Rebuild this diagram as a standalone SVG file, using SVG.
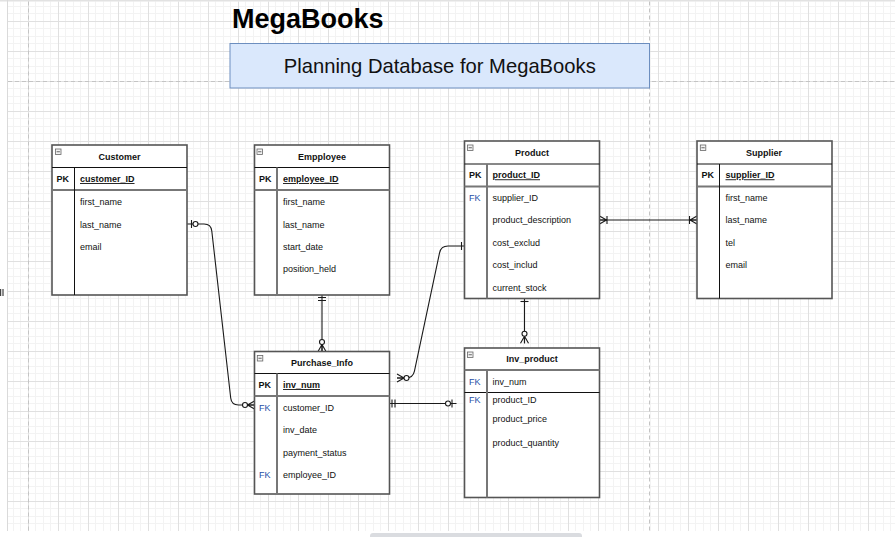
<svg xmlns="http://www.w3.org/2000/svg" width="895" height="537" viewBox="0 0 895 537">
<style>
.t{font-family:"Liberation Sans",Arial,Helvetica,sans-serif;font-size:9px;fill:#111}
.b{font-weight:bold}
.c{text-anchor:middle}
.u{text-decoration:underline}
.fk{fill:#1f4fa8}
.tbl{fill:#fff;stroke:#555;stroke-width:1.6}
.hl{stroke:#111;stroke-width:1}
.pl{stroke:#777;stroke-width:2}
.dv{stroke:#777;stroke-width:2}
.dvb{stroke:#111;stroke-width:1}
.ic{fill:#f3f3f3;stroke:#666;stroke-width:0.8}
.icm{stroke:#444;stroke-width:0.8}
.page{stroke:#c4c4c4;stroke-width:1;stroke-dasharray:4 3;fill:none}
.cn{fill:none;stroke:#1a1a1a;stroke-width:1.1}
.mk{fill:none;stroke:#1a1a1a;stroke-width:1.1}
.mc{fill:#fff;stroke:#1a1a1a;stroke-width:1.1}
</style>
<defs>
<pattern id="grid" patternUnits="userSpaceOnUse" x="28" y="21" width="30" height="30">
<rect width="30" height="30" fill="#fff"/>
<rect x="7" y="0" width="1" height="30" fill="#f3f3f3"/>
<rect x="15" y="0" width="1" height="30" fill="#f3f3f3"/>
<rect x="22" y="0" width="1" height="30" fill="#f3f3f3"/>
<rect x="0" y="7" width="30" height="1" fill="#f3f3f3"/>
<rect x="0" y="15" width="30" height="1" fill="#f3f3f3"/>
<rect x="0" y="22" width="30" height="1" fill="#f3f3f3"/>
<rect x="0" y="0" width="1" height="30" fill="#e0e0e0"/>
<rect x="0" y="0" width="30" height="1" fill="#e0e0e0"/>
</pattern>
<marker id="zeroMany" markerUnits="userSpaceOnUse" markerWidth="1" markerHeight="1" refX="0" refY="0" orient="auto-start-reverse" overflow="visible">
<path class="mk" d="M-7,0 L0,-4 M-7,0 L0,0 M-7,0 L0,4"/>
<circle class="mc" cx="-9.5" cy="0" r="2.5"/>
</marker>
<marker id="zeroOne" markerUnits="userSpaceOnUse" markerWidth="1" markerHeight="1" refX="0" refY="0" orient="auto-start-reverse" overflow="visible">
<path class="mk" d="M-4.5,-4 V4"/>
<circle class="mc" cx="-8.5" cy="0" r="2.5"/>
</marker>
<marker id="mandOne" markerUnits="userSpaceOnUse" markerWidth="1" markerHeight="1" refX="0" refY="0" orient="auto-start-reverse" overflow="visible">
<path class="mk" d="M-2.5,-4 V4 M-5.5,-4 V4"/>
</marker>
<marker id="one" markerUnits="userSpaceOnUse" markerWidth="1" markerHeight="1" refX="0" refY="0" orient="auto-start-reverse" overflow="visible">
<path class="mk" d="M-3,-4 V4"/>
</marker>
<marker id="oneMany" markerUnits="userSpaceOnUse" markerWidth="1" markerHeight="1" refX="0" refY="0" orient="auto-start-reverse" overflow="visible">
<path class="mk" d="M-7,0 L0,-4 M-7,0 L0,0 M-7,0 L0,4 M-7.5,-4 V4"/>
</marker>
</defs>

<!-- canvas background -->
<rect x="0" y="0" width="895" height="537" fill="#fff"/>
<rect x="8" y="1.5" width="887" height="529.5" fill="url(#grid)"/>
<rect x="0" y="0" width="895" height="1.5" fill="#e2e2e2"/>
<line x1="7.5" y1="0" x2="7.5" y2="531" stroke="#dadada"/>
<rect x="370" y="533" width="212" height="8" rx="3" fill="#dadce0"/>
<rect x="0" y="289" width="1.2" height="7" fill="#444"/>
<rect x="2.4" y="289" width="1.2" height="7" fill="#444"/>

<!-- page breaks -->
<g id="pages">
<line class="page" x1="28.5" y1="1.5" x2="28.5" y2="531"/>
<line class="page" x1="649.5" y1="1.5" x2="649.5" y2="531"/>
<line class="page" x1="8" y1="81.5" x2="895" y2="81.5"/>
</g>

<!-- title -->
<g id="title">
<text x="232" y="27.5" style="font-family:'Liberation Sans',Arial,sans-serif;font-size:27px;font-weight:bold;fill:#000">MegaBooks</text>
</g>
<g id="subtitle">
<rect x="230" y="43.5" width="419.5" height="44.5" fill="#dae8fc" stroke="#6c8ebf" stroke-width="1"/>
<text x="439.75" y="73" text-anchor="middle" style="font-family:'Liberation Sans',Arial,sans-serif;font-size:20.2px;fill:#111">Planning Database for MegaBooks</text>
</g>

<!-- connectors -->
<g id="connectors">
<path class="cn" d="M187,224 H204 Q211,224 211.79,230.96 L230.71,398.04 Q231.5,405 238.5,405 H254.5" marker-start="url(#zeroOne)" marker-end="url(#zeroMany)"/>
<path class="cn" d="M322,295 V351.5" marker-start="url(#mandOne)" marker-end="url(#zeroMany)"/>
<path class="cn" d="M397,378 H406 Q413,378 414.45,371.15 L439.55,252.85 Q441,246 448,246 H464.5" marker-start="url(#zeroMany)" marker-end="url(#one)"/>
<path class="cn" d="M599.5,220 H697" marker-start="url(#oneMany)" marker-end="url(#oneMany)"/>
<path class="cn" d="M524.5,298.5 V343.3" marker-start="url(#one)" marker-end="url(#zeroMany)"/>
<path class="cn" d="M389.5,403.5 H456.5" marker-start="url(#mandOne)" marker-end="url(#zeroOne)"/>
</g>

<!-- Customer -->
<g id="customer">
<rect class="tbl" x="52" y="145" width="135" height="150"/>
<line class="hl" x1="52" y1="167.5" x2="187" y2="167.5"/>
<line class="pl" x1="52" y1="190" x2="187" y2="190"/>
<line class="dvb" x1="74.5" y1="167.5" x2="74.5" y2="295"/>
<rect class="ic" x="55.5" y="149" width="5.5" height="5.5"/>
<line class="icm" x1="56.6" y1="151.75" x2="59.9" y2="151.75"/>
<text class="t b c" x="119.5" y="160">Customer</text>
<text class="t b" x="56.5" y="182">PK</text>
<text class="t b u" x="80" y="182">customer_ID</text>
<text class="t" x="80" y="205.3">first_name</text>
<text class="t" x="80" y="227.6">last_name</text>
<text class="t" x="80" y="250">email</text>
</g>

<!-- Employee -->
<g id="employee">
<rect class="tbl" x="254.5" y="145" width="135" height="150"/>
<line class="hl" x1="254.5" y1="167.5" x2="389.5" y2="167.5"/>
<line class="pl" x1="254.5" y1="190" x2="389.5" y2="190"/>
<line class="dv" x1="277" y1="167.5" x2="277" y2="295"/>
<rect class="ic" x="257" y="149" width="5.5" height="5.5"/>
<line class="icm" x1="258.1" y1="151.75" x2="261.4" y2="151.75"/>
<text class="t b c" x="322" y="160">Empployee</text>
<text class="t b" x="259" y="182">PK</text>
<text class="t b u" x="283" y="182">employee_ID</text>
<text class="t" x="283" y="205.3">first_name</text>
<text class="t" x="283" y="227.6">last_name</text>
<text class="t" x="283" y="250">start_date</text>
<text class="t" x="283" y="272">position_held</text>
</g>

<!-- Product -->
<g id="product">
<rect class="tbl" x="464.5" y="141" width="135" height="157.5"/>
<line class="hl" x1="464.5" y1="164" x2="599.5" y2="164"/>
<line class="pl" x1="464.5" y1="186.5" x2="599.5" y2="186.5"/>
<line class="dv" x1="487" y1="164" x2="487" y2="298.5"/>
<rect class="ic" x="467.5" y="145" width="5.5" height="5.5"/>
<line class="icm" x1="468.6" y1="147.75" x2="471.9" y2="147.75"/>
<text class="t b c" x="532" y="155.5">Product</text>
<text class="t b" x="469" y="178.3">PK</text>
<text class="t b u" x="492.5" y="178.3">product_ID</text>
<text class="t fk" x="469" y="201">FK</text>
<text class="t" x="492.5" y="201">supplier_ID</text>
<text class="t" x="492.5" y="223.3">product_description</text>
<text class="t" x="492.5" y="246">cost_exclud</text>
<text class="t" x="492.5" y="268.3">cost_includ</text>
<text class="t" x="492.5" y="291">current_stock</text>
</g>

<!-- Supplier -->
<g id="supplier">
<rect class="tbl" x="697" y="141" width="135" height="157.5"/>
<line class="hl" x1="697" y1="164" x2="832" y2="164"/>
<line class="pl" x1="697" y1="186.5" x2="832" y2="186.5"/>
<line class="dvb" x1="719.5" y1="164" x2="719.5" y2="298.5"/>
<rect class="ic" x="700.3" y="145" width="5.5" height="5.5"/>
<line class="icm" x1="701.4" y1="147.75" x2="704.7" y2="147.75"/>
<text class="t b c" x="764" y="155.5">Supplier</text>
<text class="t b" x="701.5" y="178.3">PK</text>
<text class="t b u" x="725.5" y="178.3">supplier_ID</text>
<text class="t" x="725.5" y="201">first_name</text>
<text class="t" x="725.5" y="223.3">last_name</text>
<text class="t" x="725.5" y="246">tel</text>
<text class="t" x="725.5" y="268.3">email</text>
</g>

<!-- Purchase_Info -->
<g id="purchase_info">
<rect class="tbl" x="254.5" y="351.5" width="135" height="142.5"/>
<line class="hl" x1="254.5" y1="373.5" x2="389.5" y2="373.5"/>
<line class="pl" x1="254.5" y1="396" x2="389.5" y2="396"/>
<line class="dv" x1="277" y1="373.5" x2="277" y2="494"/>
<rect class="ic" x="257.3" y="355.5" width="5.5" height="5.5"/>
<line class="icm" x1="258.4" y1="358.25" x2="261.7" y2="358.25"/>
<text class="t b c" x="322" y="366">Purchase_Info</text>
<text class="t b" x="258.5" y="388">PK</text>
<text class="t b u" x="283" y="388">inv_num</text>
<text class="t fk" x="259" y="411.3">FK</text>
<text class="t" x="283" y="411.3">customer_ID</text>
<text class="t" x="283" y="433.3">inv_date</text>
<text class="t" x="283" y="456">payment_status</text>
<text class="t fk" x="259" y="478.3">FK</text>
<text class="t" x="283" y="478.3">employee_ID</text>
</g>

<!-- Inv_product -->
<g id="inv_product">
<rect class="tbl" x="464.5" y="348" width="135" height="149.5"/>
<line class="pl" x1="464.5" y1="370" x2="599.5" y2="370"/>
<line class="hl" x1="464.5" y1="392.5" x2="599.5" y2="392.5"/>
<line class="dv" x1="487" y1="370" x2="487" y2="497.5"/>
<rect class="ic" x="467.5" y="352" width="5.5" height="5.5"/>
<line class="icm" x1="468.6" y1="354.75" x2="471.9" y2="354.75"/>
<text class="t b c" x="532" y="362.3">Inv_product</text>
<text class="t fk" x="469" y="385">FK</text>
<text class="t" x="492.5" y="385">inv_num</text>
<text class="t fk" x="469" y="403.3">FK</text>
<text class="t" x="492.5" y="403.3">product_ID</text>
<text class="t" x="492.5" y="422.3">product_price</text>
<text class="t" x="492.5" y="445.6">product_quantity</text>
</g>
</svg>
